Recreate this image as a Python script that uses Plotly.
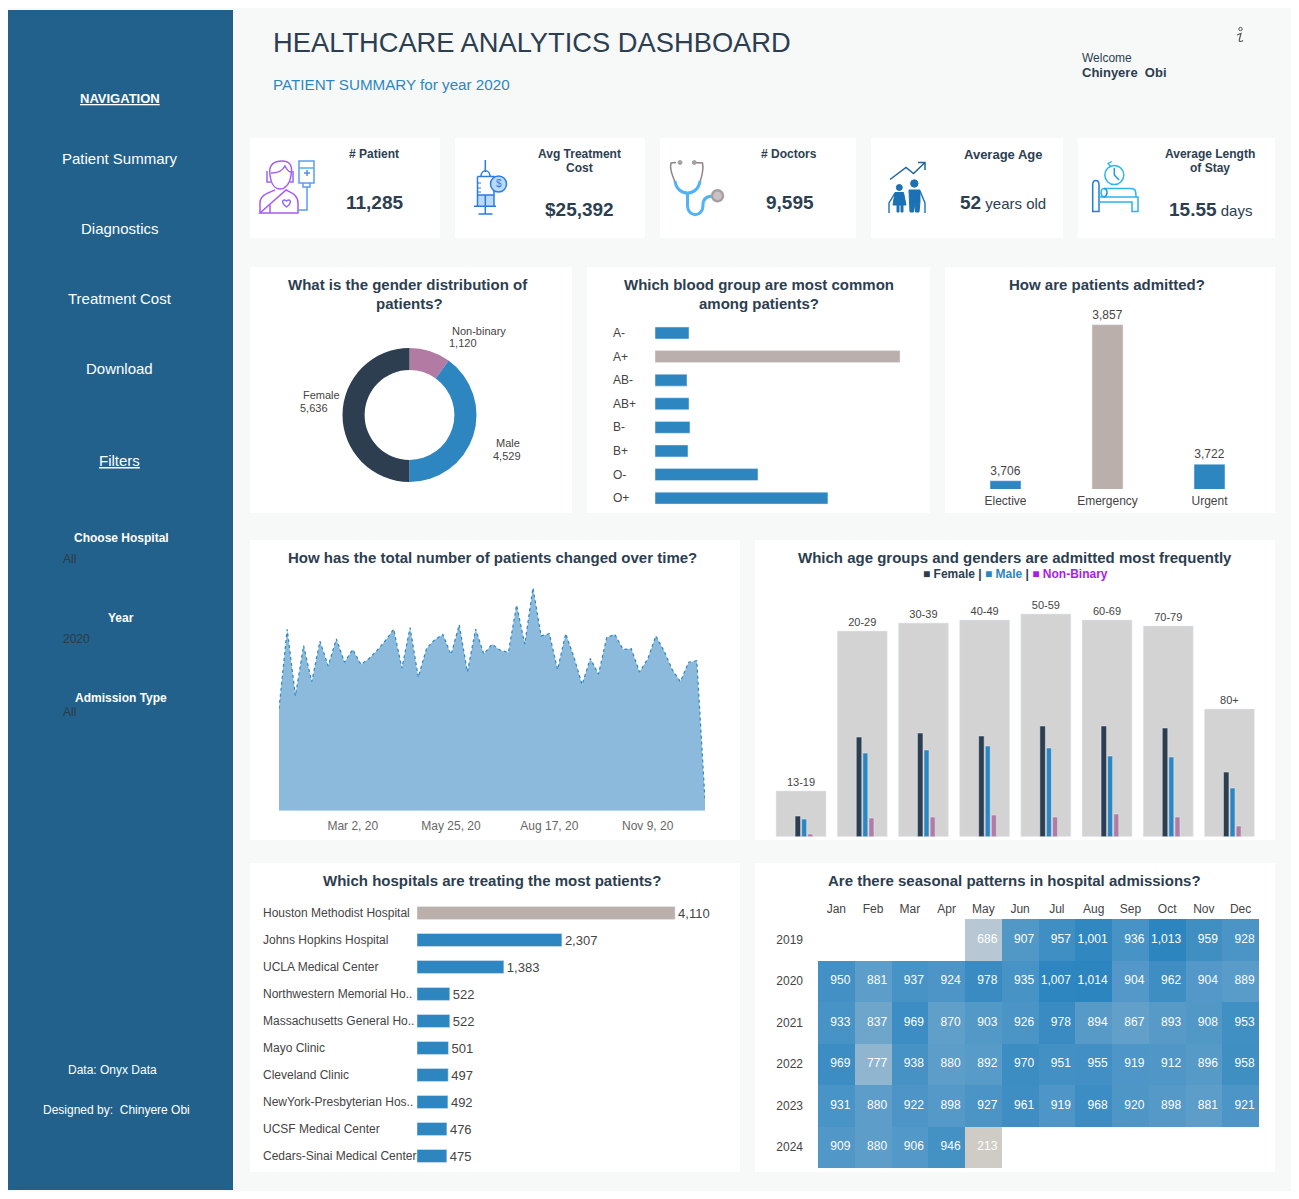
import re
import plotly.graph_objects as go

# data
gender_labels = ["Non-binary", "Male", "Female"]
gender_values = [1120, 4529, 5636]

blood_groups = ["A-", "A+", "AB-", "AB+", "B-", "B+", "O-", "O+"]
blood_values = [557, 4013, 524, 557, 573, 540, 1687, 2833]

admission_types = ["Elective", "Emergency", "Urgent"]
admission_values = [3706, 3857, 3722]

week_dates = ["2019-12-30", "2020-01-06", "2020-01-13", "2020-01-20", "2020-01-27", "2020-02-03",
              "2020-02-10", "2020-02-17", "2020-02-24", "2020-03-02", "2020-03-09", "2020-03-16",
              "2020-03-23", "2020-03-30", "2020-04-06", "2020-04-13", "2020-04-20", "2020-04-27",
              "2020-05-04", "2020-05-11", "2020-05-18", "2020-05-25", "2020-06-01", "2020-06-08",
              "2020-06-15", "2020-06-22", "2020-06-29", "2020-07-06", "2020-07-13", "2020-07-20",
              "2020-07-27", "2020-08-03", "2020-08-10", "2020-08-17", "2020-08-24", "2020-08-31",
              "2020-09-07", "2020-09-14", "2020-09-21", "2020-09-28", "2020-10-05", "2020-10-12",
              "2020-10-19", "2020-10-26", "2020-11-02", "2020-11-09", "2020-11-16", "2020-11-23",
              "2020-11-30", "2020-12-07", "2020-12-14", "2020-12-21", "2020-12-28"]
week_patients = [136, 242, 153, 220, 172, 226, 193, 229, 198, 215, 195, 203, 214, 227, 242, 190,
                 244, 178, 216, 228, 235, 208, 248, 185, 242, 209, 222, 214, 211, 274, 222, 297,
                 233, 236, 188, 236, 205, 168, 203, 182, 231, 235, 215, 216, 185, 202, 233, 213,
                 188, 172, 198, 200, 14]
week_ticks = ["2020-03-02", "2020-05-25", "2020-08-17", "2020-11-09"]
week_tick_labels = ["Mar 2, 20", "May 25, 20", "Aug 17, 20", "Nov 9, 20"]

age_groups = ["13-19", "20-29", "30-39", "40-49", "50-59", "60-69", "70-79", "80+"]
age_total = [389, 1750, 1818, 1844, 1895, 1844, 1793, 1087]
age_female = [176, 848, 882, 857, 942, 942, 925, 550]
age_male = [150, 712, 738, 772, 755, 687, 678, 414]
age_nonbinary = [23, 159, 167, 184, 167, 193, 167, 91]

hospitals = ["Houston Methodist Hospital", "Johns Hopkins Hospital", "UCLA Medical Center",
             "Northwestern Memorial Ho..", "Massachusetts General Ho..", "Mayo Clinic",
             "Cleveland Clinic", "NewYork-Presbyterian Hos..", "UCSF Medical Center",
             "Cedars-Sinai Medical Center"]
hospital_patients = [4110, 2307, 1383, 522, 522, 501, 497, 492, 476, 475]

months = ["Jan", "Feb", "Mar", "Apr", "May", "Jun", "Jul", "Aug", "Sep", "Oct", "Nov", "Dec"]
years = ["2019", "2020", "2021", "2022", "2023", "2024"]
admissions_2019 = [None, None, None, None, 686, 907, 957, 1001, 936, 1013, 959, 928]
admissions_2020 = [950, 881, 937, 924, 978, 935, 1007, 1014, 904, 962, 904, 889]
admissions_2021 = [933, 837, 969, 870, 903, 926, 978, 894, 867, 893, 908, 953]
admissions_2022 = [969, 777, 938, 880, 892, 970, 951, 955, 919, 912, 896, 958]
admissions_2023 = [931, 880, 922, 898, 927, 961, 919, 968, 920, 898, 881, 921]
admissions_2024 = [909, 880, 906, 946, 213, None, None, None, None, None, None, None]
admissions = [admissions_2019, admissions_2020, admissions_2021,
              admissions_2022, admissions_2023, admissions_2024]

# page geometry: the figure sits 8px into the page because of the body margin
W, H = 1283, 1183
FONT = "Liberation Sans"
DARK = "#2C3E50"
BLUE = "#2E86C1"
TAUPE = "#BAAFAA"
PLUM = "#B27BA3"
SIDE = "#21618C"


def fx(x):
    return (x - 8) / W


def fy(y):
    return 1 - (y - 8) / H


def dom_x(a, b):
    return [fx(a), fx(b)]


def dom_y(top, bottom):
    return [fy(bottom), fy(top)]


shapes = []
annotations = []


def rect(x0, y0, x1, y1, color, line=None, width=1, layer="below"):
    shapes.append(dict(type="rect", xref="paper", yref="paper", x0=fx(x0), x1=fx(x1), y0=fy(y1), y1=fy(y0),
                       fillcolor=color, line=dict(color=line or color, width=width if line else 0), layer=layer))


def circle(cx, cy, r, line, fill="rgba(0,0,0,0)", width=1.5):
    shapes.append(dict(type="circle", xref="paper", yref="paper", x0=fx(cx - r), x1=fx(cx + r),
                       y0=fy(cy + r), y1=fy(cy - r), fillcolor=fill, line=dict(color=line, width=width)))


def path(d, line, width=1.5, fill=None):
    # d is written in page pixels, "M x,y L x,y ...", converted to paper fractions here
    conv = re.sub(r"(-?[\d.]+),(-?[\d.]+)", lambda m: f"{fx(float(m[1])):.5f},{fy(float(m[2])):.5f}", d)
    shapes.append(dict(type="path", xref="paper", yref="paper", path=conv,
                       fillcolor=fill or "rgba(0,0,0,0)", line=dict(color=line, width=width)))


def label(x, y, text, size=12, color=DARK, anchor="center"):
    # annotations keep about 2px of padding on the anchored side
    if anchor == "left":
        x -= 2
    annotations.append(dict(xref="paper", yref="paper", x=fx(x), y=fy(y), text=text, showarrow=False,
                            xanchor=anchor, yanchor="middle", align=anchor,
                            font=dict(family=FONT, size=size, color=color)))


# background panels
rect(8, 10, 233, 1190, SIDE)
for x0, x1 in [(250, 440), (455, 645), (660, 856), (871, 1063), (1078, 1275)]:
    rect(x0, 138, x1, 238, "white")
for x0, x1 in [(250, 572), (587, 930), (945, 1275)]:
    rect(x0, 267, x1, 513, "white")
for x0, x1 in [(250, 740), (755, 1275)]:
    rect(x0, 540, x1, 840, "white")
    rect(x0, 863, x1, 1172, "white")

# sidebar text
label(119.5, 98.5, "<b><u>NAVIGATION</u></b>", 13, "white")
for y, t in [(158, "Patient Summary"), (228, "Diagnostics"), (298, "Treatment Cost"), (368, "Download")]:
    label(119.5, y, t, 15, "white")
label(119.5, 460, "<u>Filters</u>", 15, "white")
label(121, 538, "<b>Choose Hospital</b>", 12, "white")
label(63, 559, "All", 12, "#2E3A44", "left")
label(121, 618, "<b>Year</b>", 12, "white")
label(63, 639, "2020", 12, "#2E3A44", "left")
label(121, 698, "<b>Admission Type</b>", 12, "white")
label(63, 712, "All", 12, "#2E3A44", "left")
label(112, 1070, "Data: Onyx Data", 12, "white")
label(116, 1110, "Designed by:  Chinyere Obi", 12, "white")

# header
label(272.5, 42, "HEALTHCARE ANALYTICS DASHBOARD", 27.3, DARK, "left")
label(272.5, 84, "PATIENT SUMMARY for year 2020", 15.2, BLUE, "left")
label(1082, 58, "Welcome", 12, DARK, "left")
label(1082, 72.5, "<b>Chinyere  Obi</b>", 13, DARK, "left")
circle(1240.5, 29, 1.7, "#555555", width=1)
path("M 1237,35 L 1241,33.5 L 1239.5,39 C 1238.5,42 1241,42 1243,40.5", "#555555", 1.2)

# KPI cards
label(374, 154, "<b># Patient</b>", 12)
label(374, 203, f"<b>{11285:,}</b>", 19)
label(579.5, 154, "<b>Avg Treatment</b>", 12)
label(579.5, 168, "<b>Cost</b>", 12)
label(579.5, 209.5, f"<b>${25392:,}</b>", 19)
label(789, 154, "<b># Doctors</b>", 12)
label(790, 203, f"<b>{9595:,}</b>", 19)
label(1003, 155, "<b>Average Age</b>", 13)
label(1002.5, 203, "<b><span style='font-size:19px'>52</span></b> years old", 15)
label(1209.5, 154, "<b>Average Length</b>", 12)
label(1209.5, 168, "<b>of Stay</b>", 12)
label(1210, 209, "<b><span style='font-size:19px'>15.55</span></b> days", 15)

# patient icon
PUR = "#A45CF2"
path("M 270,175 C 268,164 275,161 282,161 C 290,161 293,166 291,175 C 290,184 285,189 280,189 C 275,189 271,184 270,175 Z", PUR)
path("M 271,173 C 278,173 283,170 285,166 C 287,170 289,172 291,172", PUR)
path("M 267,171 L 267,182 L 271,182 M 293,171 L 293,182 L 290,182", "#8E6DF5")
path("M 260,213 L 260,203 C 260,195 268,193 275,190 M 286,190 C 292,193 298,195 298,203 L 298,213 L 260,213 Z", "#A45CF2")
path("M 270,213 L 270,205", PUR)
path("M 286.5,207 C 280,202 283,198 286.5,201 C 290,198 293,202 286.5,207 Z", "#8E6DF5")
path("M 299,161 L 314,161 L 314,183 L 299,183 Z", "#5B9DF0")
path("M 299,168 L 314,168", "#4CB5E8")
path("M 304,173 L 310,173 M 307,170 L 307,176", "#4C8DF0")
path("M 303,183 L 303,187 L 310,187 L 310,183", "#5B9DF0")
path("M 307,187 L 307,210 L 298,210", "#5B9DF0")

# syringe icon
SY = "#2C7BE5"
rect(477.5, 195, 494, 206, "#BBDAF8", layer="above")
path("M 485.3,160 L 485.3,172", SY)
path("M 481,176.5 C 481,169 490,169 490,176.5", SY)
path("M 477.5,176.5 L 494,176.5 L 494,206 M 477.5,176.5 L 477.5,206", SY)
path("M 477.5,195 L 494,195 M 485.3,195 L 485.3,214", SY)
path("M 474,206.3 L 496,206.3 M 478.5,214 L 492.5,214", SY)
path("M 477.5,183 L 481,183 M 477.5,188 L 481,188 M 477.5,192 L 481,192", SY, 1)
circle(498.5, 184, 8, SY, "#BBDAF8")
label(498.5, 184, "$", 10, SY)

# stethoscope icon
path("M 676,162.5 L 671,163 C 669,170 673,176 675,182 M 693,162.5 L 702.5,163 C 704,170 702,176 700,182", "#8E8487", 1.5)
circle(680, 162.5, 2, "#A99FA0", "#A99FA0", 1)
circle(694.3, 162.5, 2, "#A99FA0", "#A99FA0", 1)
path("M 675,181 C 677,197 698,197 700,181", "#52B2F5", 3)
path("M 687.5,192 L 687.5,205 C 687.5,218 703,218 703,205 C 703,198 707,196 713,196", "#52B2F5", 3)
circle(717.5, 195.7, 5.5, "#A99FA0", "#C9C1C3", 2.5)

# elderly couple icon
EL = "#1A72B5"
path("M 890,179.5 L 906,167.5 L 913.5,173.5 L 925,162.5 M 918,162.5 L 925,162.5 L 925,170", "#1F669C")
circle(899.3, 187.5, 3, EL, EL, 1)
circle(914.3, 183.5, 3.7, EL, EL, 1)
path("M 895,192.5 L 903.5,192.5 L 906,205 L 893,205 Z", EL, 1, EL)
path("M 897,205 L 897,212 L 899,212 L 899,205 Z M 901,205 L 901,212 L 903,212 L 903,205 Z", EL, 1, EL)
path("M 909,190 L 920,190 L 920,202 L 919,212 L 915.5,212 L 915,203 L 913.5,212 L 910,212 L 909.5,202 Z", EL, 1, EL)
path("M 895,193 L 889,203 L 889,213 M 920,191 L 925,203 L 925,213", EL, 1.4)

# bed icon
B1 = "#1E7FDD"
B2 = "#2BB4EE"
circle(1114.3, 175, 9.5, B2)
path("M 1114.3,168 L 1114.3,175 L 1119,180", "#1F9BDD", 1.5)
path("M 1112,161.5 L 1108,163.5 L 1111,167", B2, 1.3)
path("M 1092.7,211.5 L 1092.7,185 C 1092.7,179 1099,179 1099,185 L 1099,211.5 Z", B1)
path("M 1099,197 L 1138,197 L 1138,211.5 L 1132,211.5 L 1132,202 L 1099,202", B2)
path("M 1104,197 C 1100,196 1100,189 1104,188.5 L 1131,188.5 C 1136,188.5 1136,192 1136,197", B2)
path("M 1104,188.5 C 1108,189 1108,196 1104,197", "#1F9BDD")

TITLE = 15
label(408.5, 284, "<b>What is the gender distribution of</b>", TITLE)
label(409, 303, "<b>patients?</b>", TITLE)
label(759, 284, "<b>Which blood group are most common</b>", TITLE)
label(759, 303, "<b>among patients?</b>", TITLE)
label(1107, 284, "<b>How are patients admitted?</b>", TITLE)
label(492, 557, "<b>How has the total number of patients changed over time?</b>", TITLE)
label(1014.5, 557, "<b>Which age groups and genders are admitted most frequently</b>", TITLE)
label(1015, 574, f"<b>■ Female | <span style='color:{BLUE}'>■ Male</span> | <span style='color:#A81CEB'>■ Non-Binary</span></b>", 12)
label(492, 880, "<b>Which hospitals are treating the most patients?</b>", TITLE)
label(1014.5, 880, "<b>Are there seasonal patterns in hospital admissions?</b>", TITLE)

fig = go.Figure()

# donut
fig.add_trace(go.Pie(labels=gender_labels, values=gender_values, hole=0.67, sort=False, direction="clockwise",
                     rotation=0, textinfo="none", showlegend=False,
                     marker=dict(colors=[PLUM, BLUE, DARK], line=dict(width=0)),
                     domain=dict(x=dom_x(342.5, 476.5), y=dom_y(348, 482))))
label(452, 331, gender_labels[0], 11, "#444444", "left")
label(449, 343, f"{gender_values[0]:,}", 11, "#444444", "left")
label(496, 443, gender_labels[1], 11, "#444444", "left")
label(493, 456, f"{gender_values[1]:,}", 11, "#444444", "left")
label(303, 395, gender_labels[2], 11, "#444444", "left")
label(300, 408, f"{gender_values[2]:,}", 11, "#444444", "left")

# blood groups
fig.add_trace(go.Bar(x=blood_values, y=blood_groups, orientation="h", width=0.506, xaxis="x2", yaxis="y2",
                     marker=dict(color=[TAUPE if v == max(blood_values) else BLUE for v in blood_values])))
for g in blood_groups:
    annotations.append(dict(xref="paper", yref="y2", x=fx(611), y=g, text=g, showarrow=False, xanchor="left",
                            font=dict(family=FONT, size=12, color="#444444")))

# admission type
fig.add_trace(go.Bar(x=admission_types, y=admission_values, width=0.304, xaxis="x3", yaxis="y3",
                     text=[f"{v:,}" for v in admission_values], textposition="outside", cliponaxis=False,
                     constraintext="none", textfont=dict(family=FONT, size=12, color="#444444"),
                     marker=dict(color=[TAUPE if v == max(admission_values) else BLUE for v in admission_values])))

# patients over time
fig.add_trace(go.Scatter(x=week_dates, y=week_patients, mode="lines", fill="tozeroy", fillcolor="#8BBADC",
                         line=dict(color=BLUE, width=1.2, dash="dot"), xaxis="x4", yaxis="y4"))

# age groups and genders
fig.add_trace(go.Bar(x=age_groups, y=age_total, width=0.817, offset=-0.408, xaxis="x5", yaxis="y5",
                     text=age_groups, textposition="outside", cliponaxis=False, constraintext="none",
                     textfont=dict(family=FONT, size=11, color="#444444"), marker=dict(color="#D3D3D3")))
fig.add_trace(go.Bar(x=age_groups, y=age_female, width=0.09, offset=-0.097, xaxis="x5", yaxis="y5",
                     marker=dict(color=DARK)))
fig.add_trace(go.Bar(x=age_groups, y=age_male, width=0.082, offset=0.01, xaxis="x5", yaxis="y5",
                     marker=dict(color=BLUE)))
fig.add_trace(go.Bar(x=age_groups, y=age_nonbinary, width=0.082, offset=0.11, xaxis="x5", yaxis="y5",
                     marker=dict(color=PLUM)))

# hospitals
fig.add_trace(go.Bar(x=hospital_patients, y=hospitals, orientation="h", width=0.48, xaxis="x6", yaxis="y6",
                     text=[f"{v:,}" for v in hospital_patients], textposition="outside", cliponaxis=False,
                     constraintext="none", textfont=dict(family=FONT, size=13, color="#444444"),
                     marker=dict(color=[TAUPE if v == max(hospital_patients) else BLUE for v in hospital_patients])))
for h in hospitals:
    annotations.append(dict(xref="paper", yref="y6", x=fx(261), y=h, text=h, showarrow=False, xanchor="left",
                            font=dict(family=FONT, size=12, color="#444444")))

# seasonal heatmap
heat_scale = [[0, "#CFCCC5"], [0.59, "#B7C8D4"], [0.704, "#8FB5CF"], [0.779, "#6EA6CB"],
              [0.858, "#5499C8"], [1, "#2C85BF"]]
fig.add_trace(go.Heatmap(z=admissions, x=list(range(12)), y=years, zmin=213, zmax=1014, colorscale=heat_scale,
                         showscale=False, xaxis="x7", yaxis="y7", hoverongaps=False))
text_x, text_y, text_v = [], [], []
for yr, row in zip(years, admissions):
    for m, v in enumerate(row):
        if v is not None:
            text_x.append(m + 0.38)
            text_y.append(yr)
            text_v.append(f"{v:,}")
fig.add_trace(go.Scatter(x=text_x, y=text_y, text=text_v, mode="text", textposition="middle left",
                         textfont=dict(family=FONT, size=12, color="white"), xaxis="x7", yaxis="y7"))

hidden = dict(visible=False, fixedrange=True)
tick_font = dict(family=FONT, size=12, color="#444444")
fig.update_layout(
    width=W, height=H, margin=dict(l=0, r=0, t=0, b=0), autosize=False, showlegend=False,
    paper_bgcolor="#F7F9F9", plot_bgcolor="rgba(0,0,0,0)", barmode="overlay",
    font=dict(family=FONT, color=DARK), shapes=shapes, annotations=annotations,
    xaxis2=dict(hidden, domain=dom_x(655, 915), range=[0, 260 * 16.38], anchor="y2"),
    yaxis2=dict(hidden, domain=dom_y(321.2, 509.9), autorange="reversed", anchor="x2"),
    xaxis3=dict(domain=dom_x(954.5, 1260.5), range=[-0.5, 2.5], anchor="y3", showgrid=False, zeroline=False,
                showline=False, tickfont=tick_font, ticks="", ticklabelstandoff=3, fixedrange=True),
    yaxis3=dict(hidden, domain=dom_y(300, 489), range=[3698, 3698 + 189 / 1.033], anchor="x3"),
    xaxis4=dict(domain=dom_x(279, 705), range=["2019-12-30", "2020-12-28"], anchor="y4", showgrid=False,
                zeroline=False, showline=False, tickvals=week_ticks, ticktext=week_tick_labels,
                tickfont=dict(family=FONT, size=12, color="#666666"), ticks="", ticklabelstandoff=6,
                fixedrange=True),
    yaxis4=dict(hidden, domain=dom_y(580, 810.7), range=[0, 307.6], anchor="x4"),
    xaxis5=dict(hidden, domain=dom_x(770.4, 1260), range=[-0.5, 7.5], anchor="y5"),
    yaxis5=dict(hidden, domain=dom_y(600, 836.7), range=[0, 2014], anchor="x5"),
    xaxis6=dict(hidden, domain=dom_x(417, 717), range=[0, 300 / 0.0628], anchor="y6"),
    yaxis6=dict(hidden, domain=dom_y(899.5, 1169.5), autorange="reversed", anchor="x6"),
    xaxis7=dict(domain=dom_x(818, 1259), range=[-0.5, 11.5], anchor="y7", side="top", tickvals=list(range(12)),
                ticktext=months, tickfont=tick_font, showgrid=False, zeroline=False, showline=False,
                ticks="", ticklabelstandoff=3, fixedrange=True),
    yaxis7=dict(domain=dom_y(919, 1168), range=[5.5, -0.5], anchor="x7", type="category", tickfont=tick_font,
                showgrid=False, zeroline=False, showline=False, ticks="", ticklabelstandoff=14, fixedrange=True),
)

fig.write_html("out.html", config=dict(displayModeBar=False))
